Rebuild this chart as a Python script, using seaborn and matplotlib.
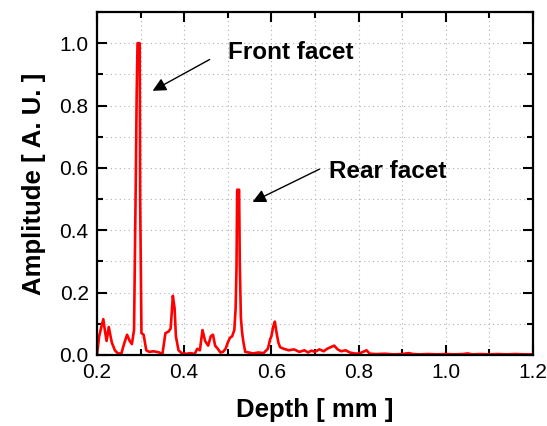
import numpy as np
import pandas as pd
import matplotlib
matplotlib.use("Agg")
import matplotlib.pyplot as plt
from matplotlib.ticker import MultipleLocator
import seaborn as sns

# ── data ────────────────────────────────────────────────────
depth = [0.200, 0.205, 0.210, 0.2145, 0.218, 0.222, 0.227, 0.234, 0.241, 0.248,
         0.256, 0.262, 0.269, 0.275, 0.280, 0.285, 0.289, 0.291, 0.293, 0.298,
         0.299, 0.302, 0.307, 0.313, 0.320, 0.330, 0.343, 0.350, 0.357, 0.364,
         0.369, 0.374, 0.378, 0.381, 0.387, 0.395, 0.405, 0.415, 0.424, 0.430,
         0.436, 0.442, 0.448, 0.455, 0.461, 0.466, 0.471, 0.477, 0.483, 0.489,
         0.495, 0.500, 0.505, 0.510, 0.515, 0.518, 0.520, 0.5215, 0.5235, 0.526,
         0.5275, 0.530, 0.533, 0.536, 0.540, 0.548, 0.558, 0.570, 0.582, 0.592,
         0.597, 0.600, 0.604, 0.608, 0.612, 0.616, 0.620, 0.628, 0.640, 0.652,
         0.664, 0.676, 0.684, 0.692, 0.700, 0.710, 0.720, 0.728, 0.736, 0.744,
         0.752, 0.760, 0.770, 0.780, 0.790, 0.800, 0.810, 0.818, 0.826, 0.840,
         0.860, 0.880, 0.900, 0.915, 0.925, 0.940, 0.960, 0.980, 1.000, 1.020,
         1.040, 1.050, 1.060, 1.080, 1.100, 1.120, 1.140, 1.160, 1.180, 1.200]
amplitude = [0.000, 0.060, 0.090, 0.115, 0.080, 0.045, 0.090, 0.040, 0.015, 0.005,
             0.005, 0.035, 0.065, 0.045, 0.035, 0.080, 0.560, 0.830, 1.000, 1.000,
             0.500, 0.070, 0.065, 0.015, 0.010, 0.012, 0.008, 0.002, 0.070, 0.075,
             0.085, 0.190, 0.150, 0.060, 0.015, 0.005, 0.004, 0.006, 0.003, 0.020,
             0.015, 0.080, 0.045, 0.030, 0.060, 0.065, 0.030, 0.020, 0.008, 0.010,
             0.020, 0.040, 0.055, 0.060, 0.080, 0.150, 0.280, 0.530, 0.530, 0.530,
             0.295, 0.120, 0.070, 0.040, 0.010, 0.008, 0.005, 0.008, 0.006, 0.020,
             0.050, 0.060, 0.090, 0.107, 0.070, 0.040, 0.025, 0.020, 0.015, 0.018,
             0.010, 0.015, 0.008, 0.014, 0.010, 0.018, 0.012, 0.020, 0.025, 0.030,
             0.018, 0.012, 0.015, 0.008, 0.005, 0.004, 0.010, 0.015, 0.004, 0.003,
             0.004, 0.002, 0.003, 0.006, 0.003, 0.002, 0.003, 0.002, 0.003, 0.002,
             0.003, 0.005, 0.002, 0.003, 0.002, 0.003, 0.002, 0.003, 0.002, 0.002]

df = pd.DataFrame({"depth": depth, "amplitude": amplitude})

# ── style ───────────────────────────────────────────────────
sns.set_style("ticks")
plt.rcParams["font.family"] = ["Liberation Sans", "DejaVu Sans"]
plt.rcParams["text.color"] = "black"
plt.rcParams["axes.labelcolor"] = "black"

fig = plt.figure(figsize=(5.47, 4.26), dpi=100)
ax = fig.add_axes([0.1773, 0.1667, 0.7971, 0.8051])

sns.lineplot(data=df, x="depth", y="amplitude", ax=ax, color="red",
             linewidth=1.9, sort=False, estimator=None)

ax.set_xlim(0.2, 1.2)
ax.set_ylim(0.0, 1.1)
ax.xaxis.set_major_locator(MultipleLocator(0.2))
ax.xaxis.set_minor_locator(MultipleLocator(0.1))
ax.yaxis.set_major_locator(MultipleLocator(0.2))
ax.yaxis.set_minor_locator(MultipleLocator(0.1))
ax.xaxis.set_major_formatter(plt.FormatStrFormatter("%.1f"))
ax.yaxis.set_major_formatter(plt.FormatStrFormatter("%.1f"))

ax.grid(True, which="both", color="#b0b0b0", linestyle=(0, (1, 3)), linewidth=0.8)
ax.tick_params(which="both", direction="in", top=True, right=True, width=1.5,
               colors="black", labelcolor="black")
ax.tick_params(which="major", length=7, labelsize=15, pad=6)
ax.tick_params(which="minor", length=4)
for s in ax.spines.values():
    s.set_linewidth(1.6)
    s.set_color("black")

ax.set_xlabel("Depth [ mm ]", fontsize=18.5, fontweight="bold", labelpad=11)
ax.set_ylabel("Amplitude [ A. U. ]", fontsize=18.5, fontweight="bold", labelpad=10)

arrow = dict(arrowstyle="-|>", color="black", lw=1.0, mutation_scale=20)
ax.annotate("Front facet", xy=(0.322, 0.843), xytext=(0.50, 0.971),
            fontsize=17.5, fontweight="bold", va="center", ha="left")
ax.annotate("", xy=(0.322, 0.843), xytext=(0.464, 0.952), arrowprops=arrow)
ax.annotate("Rear facet", xy=(0.551, 0.487), xytext=(0.732, 0.587),
            fontsize=17.5, fontweight="bold", va="center", ha="left")
ax.annotate("", xy=(0.551, 0.487), xytext=(0.716, 0.600), arrowprops=arrow)

fig.savefig("out.png", dpi=100)
